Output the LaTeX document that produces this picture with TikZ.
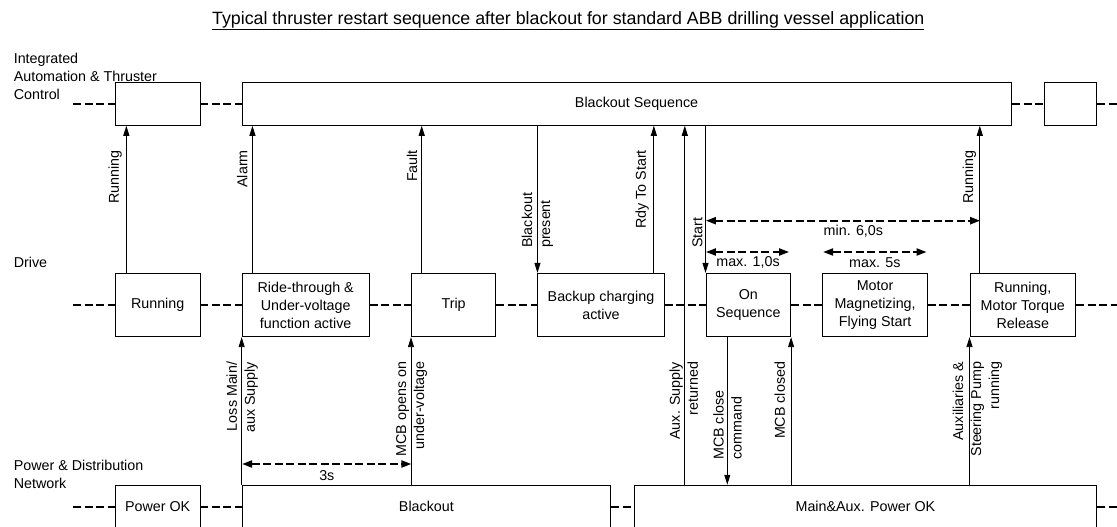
\documentclass[tikz,border=0pt]{standalone}
\usepackage{fontspec}
\setmainfont{Liberation Sans}
\usetikzlibrary{arrows.meta, positioning, backgrounds}

\begin{document}
\begin{tikzpicture}[
    x=1pt, y=-1pt,
    background rectangle/.style={fill=white},
    show background rectangle,
    inner frame sep=0pt,
    font=\fontsize{14.3}{18}\selectfont,
    % Styles for blocks, lanes and arrows
    block/.style={draw, rectangle, fill=white, line width=0.9pt, inner sep=0pt, align=center},
    lane/.style={line width=2pt, dash pattern=on 8pt off 3.5pt},
    signal/.style={-{Triangle[length=10pt, width=6pt]}, line width=0.9pt},
    span/.style={{Triangle[length=10pt, width=7pt]}-{Triangle[length=10pt, width=7pt]}, line width=2pt, dash pattern=on 8pt off 3.5pt},
    tag/.style={rotate=90, inner sep=0pt},
    rowlabel/.style={anchor=west, align=left, inner sep=0pt}
]
    \useasboundingbox (0,0) rectangle (1117,527);

    % --- TITLE AND ROW LABELS ---
    \node (title) at (568.3,20.8) {\fontsize{17.8}{20}\selectfont\underline{Typical thruster restart sequence after blackout for standard ABB drilling vessel application}};
    \node [rowlabel] (iaclabel) at (13.6,76.5) {Integrated\\Automation \& Thruster\\Control};
    \node [rowlabel] (drivelabel) at (13.6,262.3) {Drive};
    \node [rowlabel] (pwrlabel) at (13.6,474.5) {Power \& Distribution\\Network};

    % --- NODES ---
    % Automation row
    \node [block, minimum width=84.6pt, minimum height=43pt] (iacrun) at (157.7,103.8) {};
    \node [block, minimum width=769.5pt, minimum height=43pt] (bseq) at (626.9,103.8) {};
    \node [block, minimum width=52.5pt, minimum height=43pt] (iacend) at (1070.4,103.8) {};
    \node (bseqtext) at (636.6,103.8) {Blackout Sequence};

    % Drive row
    \node [block, minimum width=84.6pt, minimum height=63.4pt] (drun) at (157.7,305) {Running};
    \node [block, minimum width=127.2pt, minimum height=63.4pt] (ride) at (305.7,305) {Ride-through \&\\Under-voltage\\function active};
    \node [block, minimum width=84.3pt, minimum height=63.4pt] (trip) at (453.6,305) {Trip};
    \node [block, minimum width=126.2pt, minimum height=63.4pt] (backup) at (601,305) {Backup charging\\active};
    \node [block, minimum width=84.7pt, minimum height=63.4pt] (onseq) at (748.3,305) {On\\Sequence};
    \node [block, minimum width=104.7pt, minimum height=63.4pt] (magn) at (875.1,305) {Motor\\Magnetizing,\\Flying Start};
    \node [block, minimum width=105.7pt, minimum height=63.4pt] (torque) at (1022.8,305) {Running,\\Motor Torque\\Release};

    % Power row
    \node [block, minimum width=84.6pt, minimum height=43pt] (pok) at (157.7,506.7) {Power OK};
    \node [block, minimum width=368.5pt, minimum height=43pt] (bout) at (426.4,506.7) {Blackout};
    \node [block, minimum width=462.5pt, minimum height=43pt] (mainok) at (865.4,506.7) {Main\&Aux. Power OK};

    % --- LANES ---
    \coordinate (iacstart) at (73.2,103.8);
    \coordinate (iacstop) at (1117,103.8);
    \coordinate (drvstart) at (73.2,305);
    \coordinate (drvstop) at (1117,305);
    \coordinate (pwrstart) at (73.2,506.7);
    \coordinate (pwrstop) at (1117,506.7);

    \draw [lane] (iacstart) -- (iacrun.west);
    \draw [lane] (iacrun.east) -- (bseq.west);
    \draw [lane] (bseq.east) -- (iacend.west);
    \draw [lane] (iacend.east) -- (iacstop);

    \draw [lane] (drvstart) -- (drun.west);
    \draw [lane] (drun.east) -- (ride.west);
    \draw [lane] (ride.east) -- (trip.west);
    \draw [lane] (trip.east) -- (backup.west);
    \draw [lane] (backup.east) -- (onseq.west);
    \draw [lane] (onseq.east) -- (magn.west);
    \draw [lane] (magn.east) -- (torque.west);
    \draw [lane] (torque.east) -- (drvstop);

    \draw [lane] (pwrstart) -- (pok.west);
    \draw [lane] (pok.east) -- (bout.west);
    \draw [lane] (bout.east) -- (mainok.west);
    \draw [lane] (mainok.east) -- (pwrstop);

    % --- SIGNALS ---
    % Drive to automation
    \draw [signal] ([xshift=11.4pt]drun.north west) -- ([xshift=11.4pt]drun.north west |- iacrun.south);
    \draw [signal] ([xshift=10.8pt]ride.north west) -- ([xshift=10.8pt]ride.north west |- bseq.south);
    \draw [signal] ([xshift=10.7pt]trip.north west) -- ([xshift=10.7pt]trip.north west |- bseq.south);
    \draw [signal] (backup.north west |- bseq.south) -- (backup.north west);
    \draw [signal] ([xshift=-10.7pt]backup.north east) -- ([xshift=-10.7pt]backup.north east |- bseq.south);
    \draw [signal] ([xshift=-20.7pt]onseq.west |- mainok.north) -- ([xshift=-20.7pt]onseq.west |- bseq.south);
    \draw [signal] (onseq.north west |- bseq.south) -- (onseq.north west);
    \draw [signal] ([xshift=10.3pt]torque.north west) -- ([xshift=10.3pt]torque.north west |- bseq.south);

    % Power to drive
    \draw [signal] (ride.south west |- bout.north) -- (ride.south west);
    \draw [signal] (trip.south west |- bout.north) -- (trip.south west);
    \draw [signal] ([xshift=21.8pt]onseq.south west) -- ([xshift=21.8pt]onseq.south west |- mainok.north);
    \draw [signal] (onseq.south east |- mainok.north) -- (onseq.south east);
    \draw [signal] (torque.south west |- mainok.north) -- (torque.south west);

    % Signal labels
    \node [tag, anchor=east] (lrun) at (115.2,150) {Running};
    \node [tag, anchor=east] (lalarm) at (242.3,150) {Alarm};
    \node [tag, anchor=east] (lfault) at (412.1,150) {Fault};
    \node [tag, anchor=west, align=left] (lbop) at (537.3,248) {Blackout\\present};
    \node [tag, anchor=east] (lrdy) at (642.1,150) {Rdy To Start};
    \node [tag, anchor=west] (lstart) at (697.5,248) {Start};
    \node [tag, anchor=east] (lrun2) at (969.5,150) {Running};

    \node [tag, anchor=east, align=right] (lloss) at (242.1,361.7) {Loss Main/\\aux Supply};
    \node [tag, anchor=east, align=right] (lmcbopen) at (411.6,361.7) {MCB opens on\\under-voltage};
    \node [tag, anchor=east, align=right] (laux) at (683.8,361.7) {Aux. Supply\\returned};
    \node [tag, anchor=west, align=left] (lmcbcmd) at (727.6,460) {MCB close\\command};
    \node [tag, anchor=east] (lmcbclosed) at (779.7,361.7) {MCB closed};
    \node [tag, anchor=east, align=right] (lpump) at (977.5,361.7) {Auxiliaries \&\\Steering Pump\\running};

    % --- TIMINGS ---
    \coordinate (sixfrom) at (705.9,220.7);
    \coordinate (sixto) at (980.2,220.7);
    \coordinate (onefrom) at (705.9,252);
    \coordinate (oneto) at (789.1,252);
    \coordinate (fivefrom) at (823.1,252);
    \coordinate (fiveto) at (926.6,252);
    \coordinate (threefrom) at (242.1,464);
    \coordinate (threeto) at (411.4,464);

    \draw [span] (sixfrom) -- (sixto);
    \draw [span] (onefrom) -- (oneto);
    \draw [span] (fivefrom) -- (fiveto);
    \draw [span] (threefrom) -- (threeto);

    \node (lsix) at (853.4,231.7) {min. 6,0s};
    \node (lone) at (748,262.7) {max. 1,0s};
    \node (lfive) at (874.9,262.7) {max. 5s};
    \node (lthree) at (326.8,475.7) {3s};

\end{tikzpicture}
\end{document}
